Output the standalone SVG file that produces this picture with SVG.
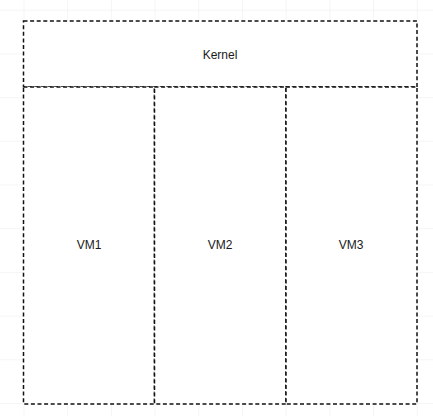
<svg xmlns="http://www.w3.org/2000/svg" width="433" height="416" viewBox="0 0 433 416">
<defs>
<pattern id="grid" x="23.5" y="9.7" width="43.7" height="43.7" patternUnits="userSpaceOnUse">
<path d="M0 0H43.7M0 0V43.7" fill="none" stroke="#ececec" stroke-width="1"/>
</pattern>
<style>
.box{fill:#ffffff;stroke:#111111;stroke-width:1.5;stroke-dasharray:4 2.6}
.lbl{font-family:"Liberation Sans",Arial,sans-serif;font-size:12px;fill:#1a1a1a;text-anchor:middle;dominant-baseline:central}
</style>
</defs>
<rect width="433" height="416" fill="#ffffff"/>
<rect width="433" height="416" fill="url(#grid)"/>
<g id="kernel">
<rect class="box" x="23.5" y="21" width="393.5" height="66"/>
<text class="lbl" x="220" y="55">Kernel</text>
</g>
<g id="vm1">
<rect class="box" x="23.5" y="87" width="131" height="317"/>
<text class="lbl" x="89" y="245">VM1</text>
</g>
<g id="vm2">
<rect class="box" x="154.5" y="87" width="131.5" height="317"/>
<text class="lbl" x="220" y="245">VM2</text>
</g>
<g id="vm3">
<rect class="box" x="286" y="87" width="131" height="317"/>
<text class="lbl" x="351" y="245">VM3</text>
</g>
<g id="connectors"></g>
</svg>
